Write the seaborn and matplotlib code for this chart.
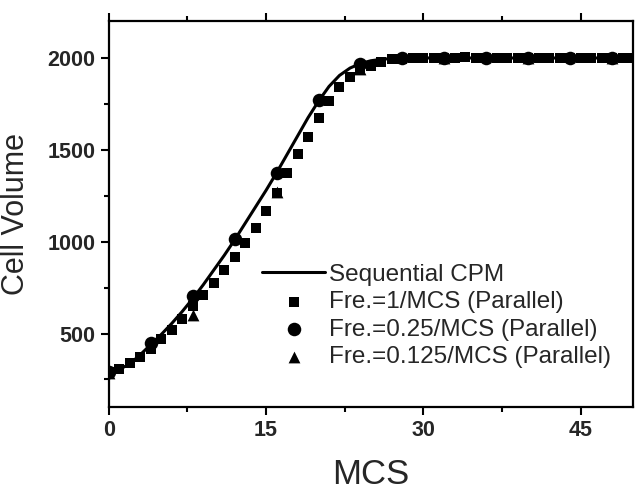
import numpy as np
import pandas as pd
import seaborn as sns
import matplotlib.pyplot as plt
from matplotlib.ticker import MultipleLocator

sns.set_style("ticks")
plt.rcParams['font.family'] = ['Liberation Sans', 'DejaVu Sans']

# sequential CPM curve, one value per MCS
seq_mcs = list(range(51))
seq_vol = [285, 305, 335, 385, 440, 495, 555, 620, 690, 765, 845, 925, 1010, 1100,
           1190, 1280, 1375, 1475, 1575, 1675, 1765, 1845, 1905, 1945, 1970, 1985,
           1993, 1997, 2000, 2000, 2000, 2000, 2000, 2000, 2000, 2000, 2000, 2000,
           2000, 2000, 2000, 2000, 2000, 2000, 2000, 2000, 2000, 2000, 2000, 2000, 2000]

# parallel, frequency 1/MCS
f1_mcs = list(range(51))
f1_vol = [292, 309, 341, 374, 415, 472, 521, 580, 651, 711, 776, 847, 917, 995,
          1077, 1167, 1267, 1376, 1476, 1571, 1671, 1765, 1843, 1897, 1934, 1955,
          1979, 1993, 1997, 2000, 1998, 2002, 2000, 1999, 2003, 2000, 1998, 2001,
          2000, 2002, 1999, 2000, 2001, 1998, 2000, 2002, 1999, 2000, 2001, 1999, 2000]

# parallel, frequency 0.25/MCS
f025_mcs = list(range(0, 51, 4))
f025_vol = [290, 450, 705, 1015, 1372, 1771, 1965, 2000, 2002, 1998, 2000, 2001, 1999]

# parallel, frequency 0.125/MCS
f0125_mcs = list(range(0, 51, 8))
f0125_vol = [288, 602, 1270, 1940, 2000, 1999, 2001]

fig, ax = plt.subplots(figsize=(6.44, 4.94), dpi=100)
fig.subplots_adjust(left=0.169, right=0.983, top=0.957, bottom=0.176)

sns.lineplot(x=seq_mcs, y=seq_vol, ax=ax, color='black', linewidth=2.2,
             label='Sequential CPM')
sns.scatterplot(x=f1_mcs, y=f1_vol, ax=ax, marker='s', s=62, color='black',
                linewidth=0, label='Fre.=1/MCS (Parallel)', zorder=3)
sns.scatterplot(x=f025_mcs, y=f025_vol, ax=ax, marker='o', s=95, color='black',
                linewidth=0, label='Fre.=0.25/MCS (Parallel)', zorder=4)
sns.scatterplot(x=f0125_mcs, y=f0125_vol, ax=ax, marker='^', s=72, color='black',
                linewidth=0, label='Fre.=0.125/MCS (Parallel)', zorder=4)

ax.set_xlim(0, 50)
ax.set_ylim(100, 2200)
ax.xaxis.set_major_locator(MultipleLocator(15))
ax.xaxis.set_minor_locator(MultipleLocator(7.5))
ax.yaxis.set_major_locator(MultipleLocator(500))
ax.yaxis.set_minor_locator(MultipleLocator(250))
ax.tick_params(which='both', direction='out', top=True, right=False, width=1.5,
               color='black')
ax.tick_params(which='major', length=6, labelsize=15.5)
ax.tick_params(which='minor', length=3.5)
for lab in ax.get_xticklabels() + ax.get_yticklabels():
    lab.set_fontweight('bold')
for sp in ax.spines.values():
    sp.set_linewidth(1.6)
    sp.set_color('black')

ax.set_xlabel('MCS', fontsize=25, labelpad=12)
ax.set_ylabel('Cell Volume', fontsize=22, labelpad=12)

ax.legend(loc='center left', bbox_to_anchor=(0.292, 0.236), frameon=False,
          fontsize=17.5, handlelength=2.6, handletextpad=0.15, labelspacing=0.22,
          borderpad=0, borderaxespad=0, markerscale=1.0)

fig.savefig('out.png', dpi=100)
